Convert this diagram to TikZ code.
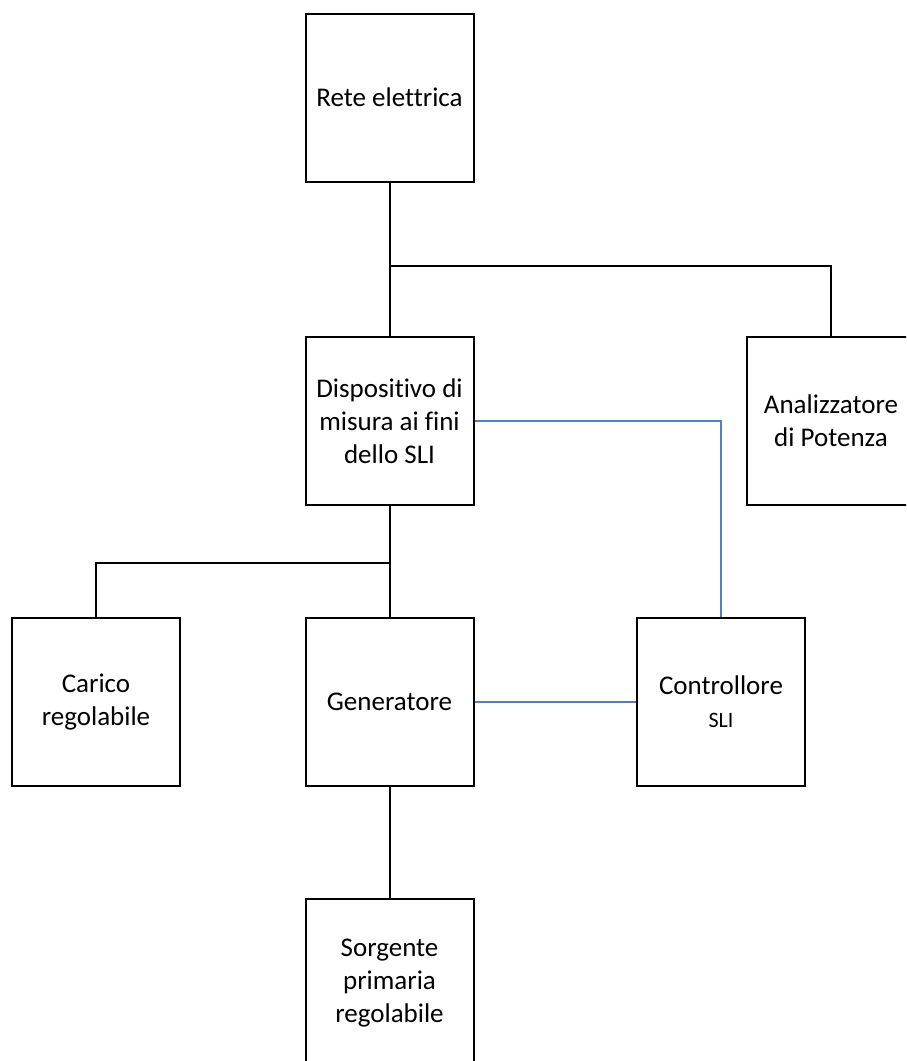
\documentclass[tikz,border=0pt]{standalone}
\usepackage{fontspec}
\setmainfont{Carlito}[Ligatures={NoCommon}]
\definecolor{linkblue}{RGB}{79,129,189}
\begin{document}
\begin{tikzpicture}[x=1pt,y=-1pt,
  blockbox/.style={draw=black,line width=2pt,rectangle,minimum width=168pt,minimum height=168pt,inner sep=0pt,align=center,font=\fontsize{27}{33}\selectfont},
  wire/.style={draw=black,line width=2pt},
  bluewire/.style={draw=linkblue,line width=1.5pt}]
\useasboundingbox (0,0) rectangle (906,1061);
\clip (0,0) rectangle (906,1061);
\node[blockbox] (rete) at (389.5,97.5) {Rete elettrica};
\node[blockbox] (disp) at (389.5,421) {Dispositivo di\\misura ai fini\\dello SLI};
\node[blockbox] (ana) at (831,421) {Analizzatore\\di Potenza};
\node[blockbox] (car) at (96,702) {Carico\\regolabile};
\node[blockbox] (gen) at (389.5,702) {Generatore};
\node[blockbox] (ctrl) at (721,702) {Controllore\\{\fontsize{22}{28}\selectfont SLI}};
\node[blockbox] (sorg) at (389.5,983) {Sorgente\\primaria\\regolabile};
\coordinate (j1) at (389.5,266);
\coordinate (j2) at (389.5,563);
\draw[wire] (rete.south) -- (disp.north);
\draw[wire] (j1) -| (ana.north);
\draw[wire] (disp.south) -- (gen.north);
\draw[wire] (j2) -| (car.north);
\draw[wire] (gen.south) -- (sorg.north);
\draw[bluewire] (disp.east) -| (ctrl.north);
\draw[bluewire] (gen.east) -- (ctrl.west);
\end{tikzpicture}
\end{document}
